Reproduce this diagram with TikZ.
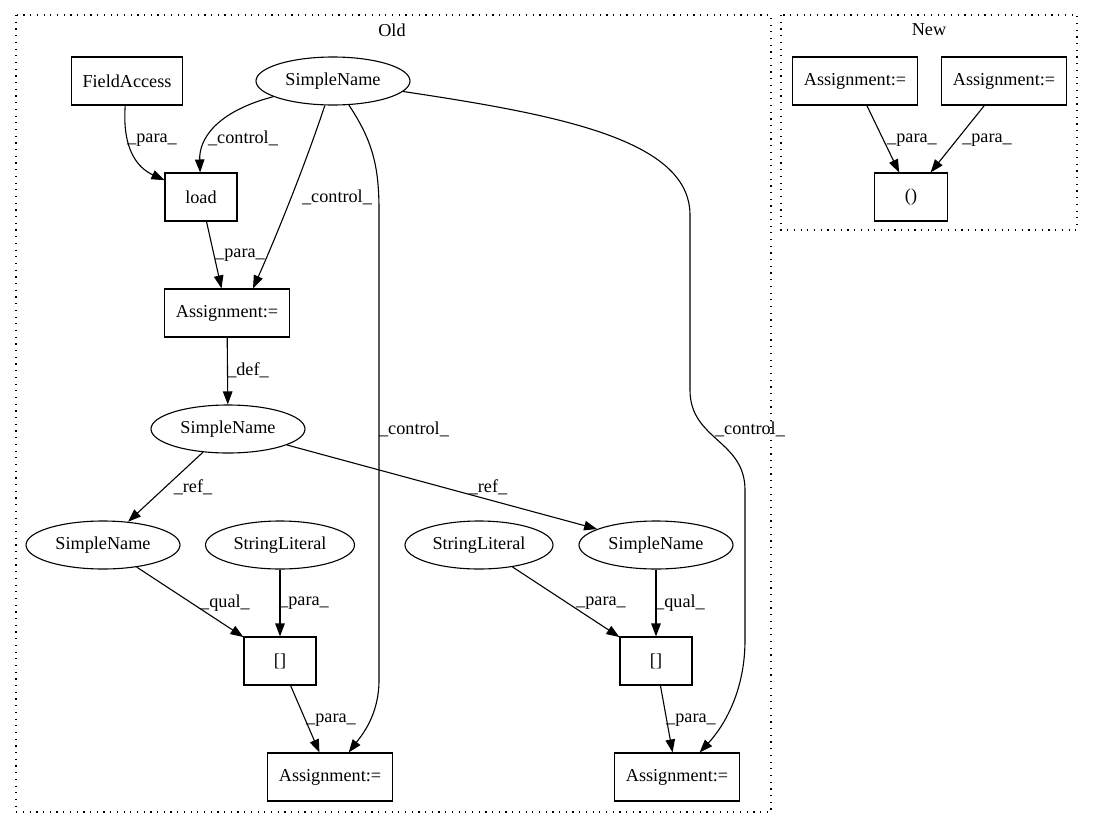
\documentclass[tikz,border=0pt]{standalone}
\usepackage{fontspec}
\setmainfont{Liberation Serif}
\usetikzlibrary{arrows.meta,shapes.geometric}

\begin{document}
\begin{tikzpicture}[x=1pt, y=-1pt, line width=1.1pt,
		every node/.style={font=\fontsize{18.2}{22}\selectfont},
		box/.style={rectangle, draw, minimum height=48pt, inner sep=0pt},
		oval/.style={ellipse, draw, minimum width=154pt, minimum height=48pt, inner sep=0pt},
		edge/.style={-{Triangle[length=13pt, width=9.5pt]}},
		lbl/.style={inner sep=0pt},
		cluster/.style={draw, dash pattern=on 1.2pt off 5.5pt}]

		\useasboundingbox (0,0) rectangle (1093,828);
		\draw[cluster] (16,15) rectangle (771,812);
		\draw[cluster] (781,15) rectangle (1077,230);
		\node (old) at (392,30) {Old};
		\node (new) at (929,30) {New};

		\node[box, minimum width=111pt] (1) at (127,81) {FieldAccess};
		\node[oval] (2) at (333,81) {SimpleName};
		\node[box, minimum width=72pt] (3) at (201,197) {load};
		\node[box, minimum width=125pt] (4) at (227,313) {Assignment:=};
		\node[oval] (5) at (228,429) {SimpleName};
		\node[oval] (6) at (103,545) {SimpleName};
		\node[oval, minimum width=149pt] (7) at (280,545) {StringLiteral};
		\node[oval, minimum width=148pt] (8) at (479,545) {StringLiteral};
		\node[oval] (9) at (656,545) {SimpleName};
		\node[box, minimum width=72pt] (10) at (280,661) {[]};
		\node[box, minimum width=72pt] (11) at (656,661) {[]};
		\node[box, minimum width=125pt] (12) at (330,777) {Assignment:=};
		\node[box, minimum width=125pt] (13) at (677,777) {Assignment:=};
		\node[box, minimum width=125pt] (14) at (855,81) {Assignment:=};
		\node[box, minimum width=125pt] (15) at (1004,81) {Assignment:=};
		\node[box, minimum width=73pt] (16) at (911,197) {()};

		\draw[edge] (1) .. controls (122,150) and (138,168) .. (3) node[lbl] at (152,140) {\_para\_};
		\draw[edge] (2) .. controls (215,112) and (199,140) .. (3) node[lbl] at (243,138) {\_control\_};
		\draw[edge] (2) .. controls (300,180) and (268,255) .. ([xshift=26pt]4.north) node[lbl] at (337,197) {\_control\_};
		\draw[edge] (3) -- (4) node[lbl] at (240,255) {\_para\_};
		\draw[edge] (4) -- (5) node[lbl] at (248,370) {\_def\_};
		\draw[edge] (2) .. controls (372,140) and (379,165) .. (379,210) -- (379,680) .. controls (379,715) and (362,735) .. (12) node[lbl] at (414,429) {\_control\_};
		\draw[edge] (2) .. controls (560,115) and (690,140) .. (690,215) -- (690,390) .. controls (690,440) and (745,440) .. (745,490) -- (745,640) .. controls (745,690) and (725,725) .. (13) node[lbl] at (750,429) {\_control\_};
		\draw[edge] (5) -- (6) node[lbl] at (193,487) {\_ref\_};
		\draw[edge] (5) -- (9) node[lbl] at (488,487) {\_ref\_};
		\draw[edge] (6) -- (10) node[lbl] at (225,603) {\_qual\_};
		\draw[edge] (7) -- (10) node[lbl] at (304,603) {\_para\_};
		\draw[edge] (8) -- (11) node[lbl] at (601,603) {\_para\_};
		\draw[edge] (9) -- (11) node[lbl] at (680,603) {\_qual\_};
		\draw[edge] (10) -- (12) node[lbl] at (331,720) {\_para\_};
		\draw[edge] (11) -- (13) node[lbl] at (691,720) {\_para\_};
		\draw[edge] (14) -- (16) node[lbl] at (912,140) {\_para\_};
		\draw[edge] (15) -- (16) node[lbl] at (987,140) {\_para\_};

	\end{tikzpicture}
\end{document}
